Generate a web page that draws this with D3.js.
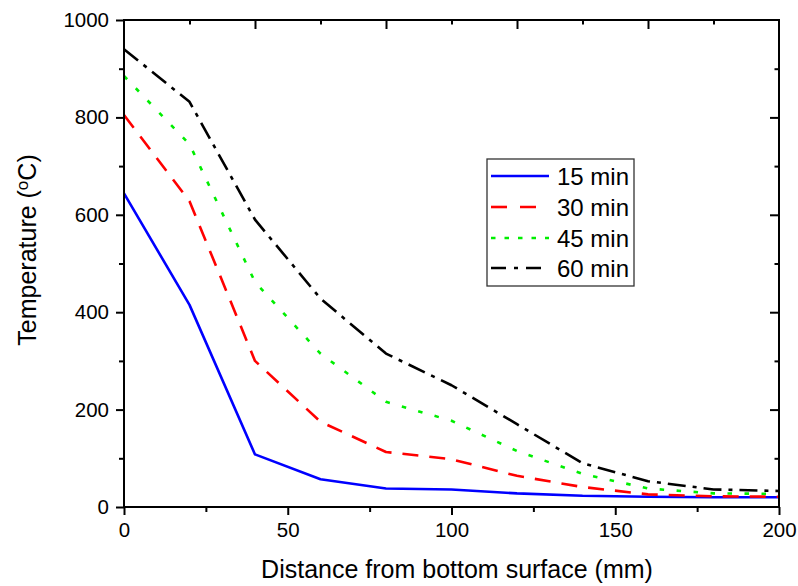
<!DOCTYPE html>
<html>
<head>
<meta charset="utf-8">
<script src="https://cdn.jsdelivr.net/npm/d3@7"></script>
<style>
  html, body { margin: 0; padding: 0; background: #fff; }
  svg { display: block; }
  text { font-family: Arial, "Liberation Sans", sans-serif; fill: #000; }
</style>
</head>
<body>
<svg id="chart" width="798" height="586"></svg>
<script>
// ---- data ----
const distance = [0, 20, 40, 60, 80, 100, 120, 140, 160, 180, 200];
const t15 = [644, 415, 108, 57, 38, 36, 28, 23, 21, 20, 20];
const t30 = [805, 628, 300, 175, 113, 98, 64, 41, 26, 22, 21];
const t45 = [885, 745, 462, 315, 216, 177, 115, 68, 38, 28, 27];
const t60 = [940, 832, 590, 428, 315, 250, 170, 90, 53, 36, 33];
const seriesNames = ["15 min", "30 min", "45 min", "60 min"];
const xTicks = [0, 50, 100, 150, 200];
const xMinorTicks = [25, 75, 125, 175];
const yTicks = [0, 200, 400, 600, 800, 1000];
const yMinorTicks = [100, 300, 500, 700, 900];
const topTicks = [40, 80, 120, 160];
const topMinorTicks = [20, 60, 100, 140, 180];
const rightTicks = [200, 400, 600, 800];
const xTitle = "Distance from bottom surface (mm)";

// ---- styles ----
const colors = ["#0000ff", "#ff0000", "#00ee00", "#000000"];
const dashes = [null, "16,11", "4.5,12.5", "18,7,4,7"];
const legendDashes = [null, "16,13", "4.5,9", "15,8,4,8"];

const svg = d3.select("#chart");
const L = 124, R = 779, T = 20, B = 507;
const x = d3.scaleLinear().domain([0, 200]).range([L, R]);
const y = d3.scaleLinear().domain([0, 1000]).range([B, T]);

function styleAxis(g) {
  g.select(".domain").remove();
  g.selectAll(".tick line").attr("stroke", "#000").attr("stroke-width", 2);
  g.selectAll(".tick text").style("font-size", "20.5px").style("font-family", "Arial, 'Liberation Sans', sans-serif");
}

// bottom axis
svg.append("g").attr("transform", `translate(0,${B})`)
  .call(d3.axisBottom(x).tickValues(xTicks).tickSize(8).tickPadding(7).tickFormat(d3.format("d")))
  .call(styleAxis);
svg.append("g").attr("transform", `translate(0,${B})`)
  .call(d3.axisBottom(x).tickValues(xMinorTicks).tickSize(5).tickFormat(""))
  .call(styleAxis);
// left axis
svg.append("g").attr("transform", `translate(${L},0)`)
  .call(d3.axisLeft(y).tickValues(yTicks).tickSize(8).tickPadding(7).tickFormat(d3.format("d")))
  .call(styleAxis);
svg.append("g").attr("transform", `translate(${L},0)`)
  .call(d3.axisLeft(y).tickValues(yMinorTicks).tickSize(5).tickFormat(""))
  .call(styleAxis);
// top axis (inward ticks)
svg.append("g").attr("transform", `translate(0,${T})`)
  .call(d3.axisBottom(x).tickValues(topTicks).tickSize(9).tickFormat(""))
  .call(styleAxis);
svg.append("g").attr("transform", `translate(0,${T})`)
  .call(d3.axisBottom(x).tickValues(topMinorTicks).tickSize(4.5).tickFormat(""))
  .call(styleAxis);
// right axis (inward ticks)
svg.append("g").attr("transform", `translate(${R},0)`)
  .call(d3.axisLeft(y).tickValues(rightTicks).tickSize(9).tickFormat(""))
  .call(styleAxis);
svg.append("g").attr("transform", `translate(${R},0)`)
  .call(d3.axisLeft(y).tickValues(yMinorTicks).tickSize(4.5).tickFormat(""))
  .call(styleAxis);

// lines
const allSeries = [t15, t30, t45, t60];
const line = d3.line().x((d, i) => x(distance[i])).y(d => y(d));
svg.append("g").selectAll("path").data(allSeries).join("path")
  .attr("d", d => line(d))
  .attr("fill", "none")
  .attr("stroke", (d, i) => colors[i])
  .attr("stroke-width", 2.6)
  .attr("stroke-linejoin", "round")
  .attr("stroke-dasharray", (d, i) => dashes[i]);

// frame
svg.append("rect").attr("x", L).attr("y", T).attr("width", R - L).attr("height", B - T)
  .attr("fill", "none").attr("stroke", "#000").attr("stroke-width", 2);

// legend
const lg = svg.append("g");
lg.append("rect").attr("x", 487).attr("y", 159).attr("width", 147).attr("height", 127)
  .attr("fill", "#fff").attr("stroke", "#333").attr("stroke-width", 1.3);
const legY = [176, 207, 238, 268];
seriesNames.forEach((name, i) => {
  lg.append("line").attr("x1", 491).attr("x2", 549).attr("y1", legY[i]).attr("y2", legY[i])
    .attr("stroke", colors[i]).attr("stroke-width", 2.6).attr("stroke-dasharray", legendDashes[i]);
  lg.append("text").attr("x", 557).attr("y", legY[i] + 8.5).style("font-size", "24px").text(name);
});

// axis titles
svg.append("text").attr("x", 457).attr("y", 578).attr("text-anchor", "middle")
  .style("font-size", "25px").text(xTitle);
const yt = svg.append("text").attr("transform", "translate(36,250) rotate(-90)")
  .attr("text-anchor", "middle").style("font-size", "25px");
yt.append("tspan").text("Temperature (");
yt.append("tspan").text("o").style("font-size", "17px").attr("dy", "-8");
yt.append("tspan").text("C)").attr("dy", "8");
</script>
</body>
</html>
